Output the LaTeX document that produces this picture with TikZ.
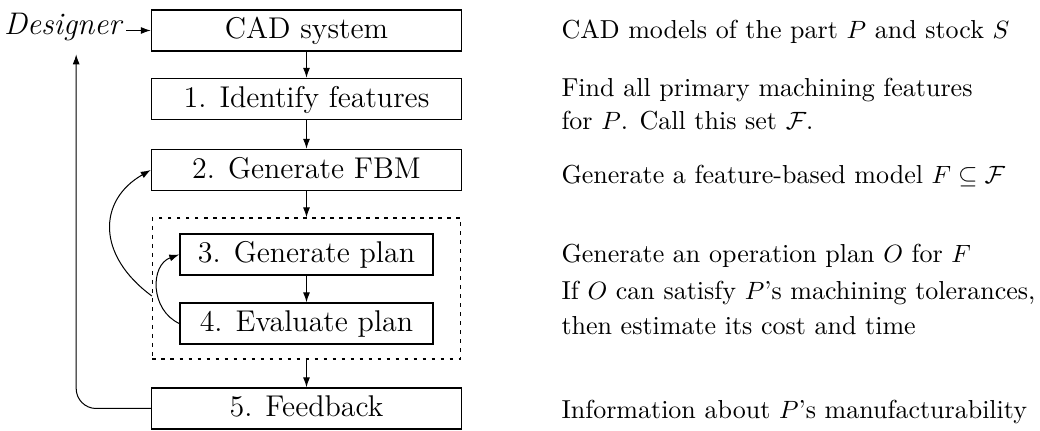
\documentclass[tikz,border=0pt]{standalone}
\usetikzlibrary{arrows.meta}
\begin{document}
\begin{tikzpicture}[x=0.4pt,y=-0.4pt,
  box/.style={draw, line width=0.55pt, minimum width=124pt, minimum height=16.4pt,
    inner sep=0pt, text height=9pt, text depth=2.4pt, font=\fontsize{12}{14}\selectfont},
  smallbox/.style={box, minimum width=101.2pt},
  group/.style={draw, dash pattern=on 1.5pt off 2.1pt, line width=0.5pt,
    minimum width=123.2pt, minimum height=56.4pt, inner sep=0pt},
  arr/.style={line width=0.4pt, -{Latex[length=4pt,width=2.8pt]}},
  note/.style={anchor=base west, inner sep=0pt, font=\fontsize{10.4}{12.5}\selectfont},
]
\useasboundingbox (0,0) rectangle (1040,431);

% process boxes
\node[box] (cad) at (306.5,30.5) {CAD system};
\node[box] (b1) at (306.5,99) {1. Identify features};
\node[box] (b2) at (306.5,170) {2. Generate FBM};
\node[group] (grp) at (306.5,288.5) {};
\node[smallbox] (b3) at (306.5,254.5) {3. Generate plan};
\node[smallbox] (b4) at (306.5,323.5) {4. Evaluate plan};
\node[box] (b5) at (306.5,408.5) {5. Feedback};
\node[anchor=base west, inner sep=1pt, font=\fontsize{12.5}{15}\selectfont] (des) at (1,35) {\textit{Designer}};

% main flow
\draw[arr] (des.east |- cad.west) -- (cad.west);
\draw[arr] (cad) -- (b1);
\draw[arr] (b1) -- (b2);
\draw[arr] (b2) -- (grp);
\draw[arr] (b3) -- (b4);
\draw[arr] (grp) -- (b5);

% feedback loops
\draw[arr, rounded corners=8pt, shorten >=4pt] (b5.west) -| ([xshift=5pt]des.south);
\draw[arr] ([yshift=-3pt]grp.west) .. controls (96,255) and (98,200) .. (b2.west);
\draw[arr] (b4.west) .. controls (150,310) and (150,265) .. (b3.west);

% descriptions
\node[note] (n0) at (561,39) {CAD models of the part $P$ and stock $S$};
\node[note] (n1) at (561,97) {Find all primary machining features};
\node[note] (n1b) at (561,130) {for $P$. Call this set $\mathcal{F}$.};
\node[note] (n2) at (561,184) {Generate a feature-based model $F\subseteq\mathcal{F}$};
\node[note] (n3) at (561,263) {Generate an operation plan $O$ for $F$};
\node[note] (n4) at (561,300) {If $O$ can satisfy $P$'s machining tolerances,};
\node[note] (n4b) at (561,335) {then estimate its cost and time};
\node[note] (n5) at (561,419) {Information about $P$'s manufacturability};
\end{tikzpicture}
\end{document}
